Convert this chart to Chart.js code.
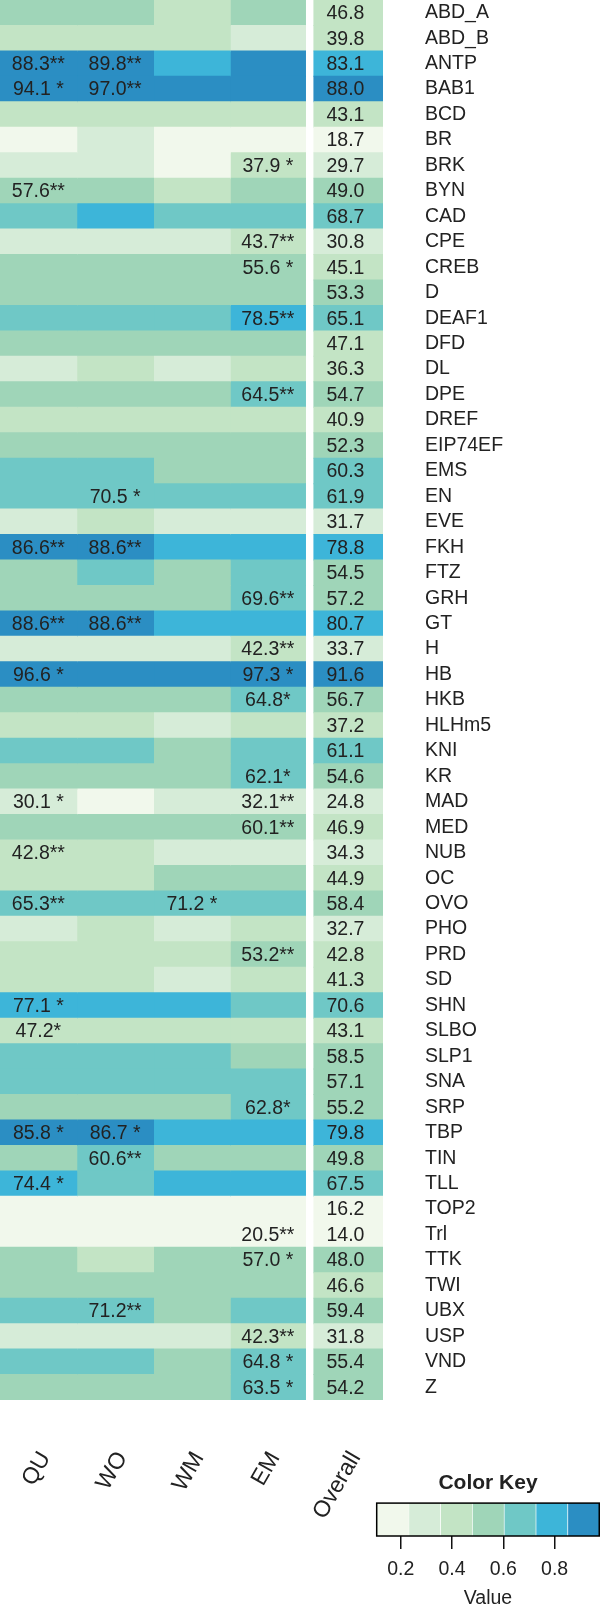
<!DOCTYPE html>
<html>
<head>
<meta charset="utf-8">
<script src="https://cdn.jsdelivr.net/npm/chart.js@4.4.1/dist/chart.umd.min.js"></script>
<style>
  html, body { margin: 0; padding: 0; background: #fff; }
  #wrap { position: relative; width: 600px; height: 1608px; }
  #heat { position: absolute; left: 0; top: 0; }
  #key { position: absolute; left: 360px; top: 1470px; }
</style>
</head>
<body>
<div id="wrap">
  <canvas id="heat" width="600" height="1608"></canvas>
  <canvas id="key" width="240" height="138"></canvas>
</div>
<script>
/* ================== DATA ================== */
const rowNames = ["ABD_A","ABD_B","ANTP","BAB1","BCD","BR","BRK","BYN","CAD","CPE",
  "CREB","D","DEAF1","DFD","DL","DPE","DREF","EIP74EF","EMS","EN",
  "EVE","FKH","FTZ","GRH","GT","H","HB","HKB","HLHm5","KNI",
  "KR","MAD","MED","NUB","OC","OVO","PHO","PRD","SD","SHN",
  "SLBO","SLP1","SNA","SRP","TBP","TIN","TLL","TOP2","Trl","TTK",
  "TWI","UBX","USP","VND","Z"];

const colNames = ["QU", "WO", "WM", "EM", "Overall"];

// percent values (unlabelled cells estimated from their colour bin)
const quValues = [49, 42, 88.3, 94.1, 44, 16, 30, 57.6, 66, 27,
  49, 53, 63, 49, 33, 52, 41, 52, 65, 62,
  30, 86.6, 50, 55, 88.6, 31, 96.6, 54, 38, 64,
  54, 30.1, 49, 42.8, 41, 65.3, 30, 40, 43, 77.1,
  47.2, 63, 61, 54, 85.8, 49, 74.4, 16, 12, 49,
  48, 64, 29, 62, 54];

const woValues = [50, 41, 89.8, 97.0, 43, 26, 29, 50, 77, 28,
  50, 54, 64, 50, 38, 53, 42, 53, 66, 70.5,
  37, 88.6, 62, 54, 88.6, 30, 88, 54, 38, 63,
  53, 15, 49, 36, 40, 63, 37, 41, 42, 75,
  43, 62, 62, 54, 86.7, 60.6, 65, 17, 13, 42,
  49, 71.2, 30, 61, 53];

const wmValues = [42, 40, 78, 86, 42, 17, 20, 40, 65, 26,
  49, 52, 62, 49, 33, 51, 40, 51, 56, 62,
  29, 74, 50, 53, 76, 31, 87, 53, 33, 56,
  52, 24, 49, 30, 48, 71.2, 30, 40, 34, 74,
  42, 62, 61, 53, 76, 49, 74, 16, 12, 49,
  48, 52, 29, 53, 52];

const emValues = [48, 33, 86, 87, 44, 18, 37.9, 49, 66, 43.7,
  55.6, 53, 78.5, 50, 40, 64.5, 41, 53, 55, 62,
  31, 75, 61, 69.6, 77, 42.3, 97.3, 64.8, 39, 62,
  62.1, 32.1, 60.1, 30, 49, 62, 37, 53.2, 42, 66,
  43, 52, 61, 62.8, 77, 49, 74, 17, 20.5, 57.0,
  49, 62, 42.3, 64.8, 63.5];

const overallValues = [46.8, 39.8, 83.1, 88.0, 43.1, 18.7, 29.7, 49.0, 68.7, 30.8,
  45.1, 53.3, 65.1, 47.1, 36.3, 54.7, 40.9, 52.3, 60.3, 61.9,
  31.7, 78.8, 54.5, 57.2, 80.7, 33.7, 91.6, 56.7, 37.2, 61.1,
  54.6, 24.8, 46.9, 34.3, 44.9, 58.4, 32.7, 42.8, 41.3, 70.6,
  43.1, 58.5, 57.1, 55.2, 79.8, 49.8, 67.5, 16.2, 14.0, 48.0,
  46.6, 59.4, 31.8, 55.4, 54.2];

// significance marks for labelled cells
const quStars = { ANTP: "**", BAB1: " *", BYN: "**", FKH: "**", GT: "**", HB: " *",
  MAD: " *", NUB: "**", OVO: "**", SHN: " *", SLBO: "*", TBP: " *", TLL: " *" };
const woStars = { ANTP: "**", BAB1: "**", EN: " *", FKH: "**", GT: "**", TBP: " *",
  TIN: "**", UBX: "**" };
const wmStars = { OVO: " *" };
const emStars = { BRK: " *", CPE: "**", CREB: " *", DEAF1: "**", DPE: "**", GRH: "**",
  H: "**", HB: " *", HKB: "*", KR: "*", MAD: "**", MED: "**", PRD: "**", SRP: "*",
  Trl: "**", TTK: " *", USP: "**", VND: " *", Z: " *" };

// colour key
const keyBreaks = [0.106, 0.230, 0.354, 0.478, 0.602, 0.726, 0.850, 0.974];
const keyTicks = [0.2, 0.4, 0.6, 0.8];
const binColors = ["#f1f8ec", "#d6ecd8", "#c3e4c5", "#9fd5b8", "#6fc8c6", "#3db5d9", "#2b8ec3"];

/* ================== LAYOUT ================== */
const FONT = "'Liberation Sans', Arial, Helvetica, sans-serif";
const FONT_PX = 19.5;
const TEXT = "#222";
const HEAT_RIGHT = 383;
const HEAT_BOTTOM = 1400;
const colStart = [0, 1, 2, 3, 4.09];
const colEnd = [1, 2, 3, 3.98, 4.99];

const columns = [
  { values: quValues, stars: quStars },
  { values: woValues, stars: woStars },
  { values: wmValues, stars: wmStars },
  { values: emValues, stars: emStars },
  { values: overallValues, stars: null }
];

function binColor(pct) {
  const v = pct / 100;
  for (let i = binColors.length - 1; i > 0; i--) {
    if (v > keyBreaks[i]) return binColors[i];
  }
  return binColors[0];
}

/* ================== CELL TEXT ================== */
const cellText = {
  id: "cellText",
  afterDatasetsDraw(chart) {
    const ctx = chart.ctx;
    const xs = chart.scales.x;
    const ys = chart.scales.y;
    ctx.save();
    ctx.font = FONT_PX + "px " + FONT;
    ctx.fillStyle = TEXT;
    ctx.textAlign = "center";
    ctx.textBaseline = "middle";
    columns.forEach((col, c) => {
      // overall labels sit a little left of the column centre in the original
      const cx = xs.getPixelForValue((colStart[c] + colEnd[c]) / 2) - (col.stars ? 0 : 3);
      rowNames.forEach((name, r) => {
        let mark = "";
        if (col.stars) {
          mark = col.stars[name];
          if (mark === undefined) return;
        }
        ctx.fillText(col.values[r].toFixed(1) + mark, cx, ys.getPixelForValue(r) + 1);
      });
    });
    ctx.restore();
  }
};

/* ================== HEATMAP ================== */
new Chart(document.getElementById("heat"), {
  type: "bar",
  data: {
    labels: rowNames,
    datasets: columns.map((col, c) => ({
      label: colNames[c],
      data: col.values.map(() => [colStart[c], colEnd[c]]),
      backgroundColor: col.values.map(binColor),
      grouped: false,
      barPercentage: 1,
      categoryPercentage: 1,
      borderWidth: 0,
      inflateAmount: 0.5
    }))
  },
  options: {
    indexAxis: "y",
    responsive: false,
    animation: false,
    layout: { padding: 0 },
    plugins: { legend: { display: false }, tooltip: { enabled: false } },
    scales: {
      x: {
        type: "linear",
        position: "bottom",
        min: 0,
        max: colEnd[4],
        grid: { display: false, drawTicks: false },
        border: { display: false },
        afterBuildTicks: (s) => { s.ticks = colNames.map((n, c) => ({ value: (colStart[c] + colEnd[c]) / 2 })); },
        afterFit: (s) => {
          s.height = 1608 - HEAT_BOTTOM;
          s.paddingLeft = 0;
          s.paddingRight = 0;
        },
        ticks: {
          autoSkip: false,
          minRotation: 60,
          maxRotation: 60,
          padding: 47,
          labelOffset: 7,
          color: TEXT,
          font: { family: FONT, size: 23 },
          callback: (v, i) => colNames[i]
        }
      },
      y: {
        position: "right",
        grid: { display: false, drawTicks: false },
        border: { display: false },
        afterFit: (s) => {
          s.width = 600 - HEAT_RIGHT;
          s.paddingTop = 0;
          s.paddingBottom = 0;
        },
        ticks: {
          autoSkip: false,
          padding: 42,
          color: TEXT,
          font: { family: FONT, size: FONT_PX }
        }
      }
    }
  },
  plugins: [cellText]
});

/* ================== COLOR KEY ================== */
const keyFrame = {
  id: "keyFrame",
  afterDraw(chart) {
    const a = chart.chartArea;
    const ctx = chart.ctx;
    ctx.save();
    ctx.strokeStyle = "#000";
    ctx.lineWidth = 1.5;
    ctx.strokeRect(a.left, a.top, a.right - a.left, a.bottom - a.top);
    ctx.restore();
  }
};

new Chart(document.getElementById("key"), {
  type: "bar",
  data: {
    labels: ["key"],
    datasets: binColors.map((color, i) => ({
      data: [[keyBreaks[i], keyBreaks[i + 1]]],
      backgroundColor: color,
      borderColor: "#fff",
      borderWidth: { left: i ? 1 : 0, right: 0, top: 0, bottom: 0 },
      borderSkipped: false,
      grouped: false,
      barPercentage: 1,
      categoryPercentage: 1
    }))
  },
  options: {
    indexAxis: "y",
    responsive: false,
    animation: false,
    layout: { padding: { left: 16.7, right: 0.75, top: 0, bottom: 0 } },
    plugins: {
      legend: { display: false },
      tooltip: { enabled: false },
      title: {
        display: true,
        text: "Color Key",
        color: TEXT,
        font: { family: FONT, size: 21, weight: "bold", lineHeight: 1.1 },
        padding: { top: 2, bottom: 8 }
      }
    },
    scales: {
      x: {
        type: "linear",
        min: keyBreaks[0],
        max: keyBreaks[keyBreaks.length - 1],
        afterBuildTicks: (s) => { s.ticks = keyTicks.map(v => ({ value: v })); },
        afterFit: (s) => { s.height = 72; },
        grid: { display: true, drawOnChartArea: false, drawTicks: true, tickLength: 13, color: "#111", lineWidth: 1.5 },
        border: { display: false },
        ticks: {
          padding: 9,
          color: TEXT,
          font: { family: FONT, size: FONT_PX },
          callback: (v) => v.toFixed(1)
        },
        title: {
          display: true,
          text: "Value",
          color: TEXT,
          font: { family: FONT, size: FONT_PX, lineHeight: 1 },
          padding: 0
        }
      },
      y: { display: false }
    }
  },
  plugins: [keyFrame]
});
</script>
</body>
</html>
